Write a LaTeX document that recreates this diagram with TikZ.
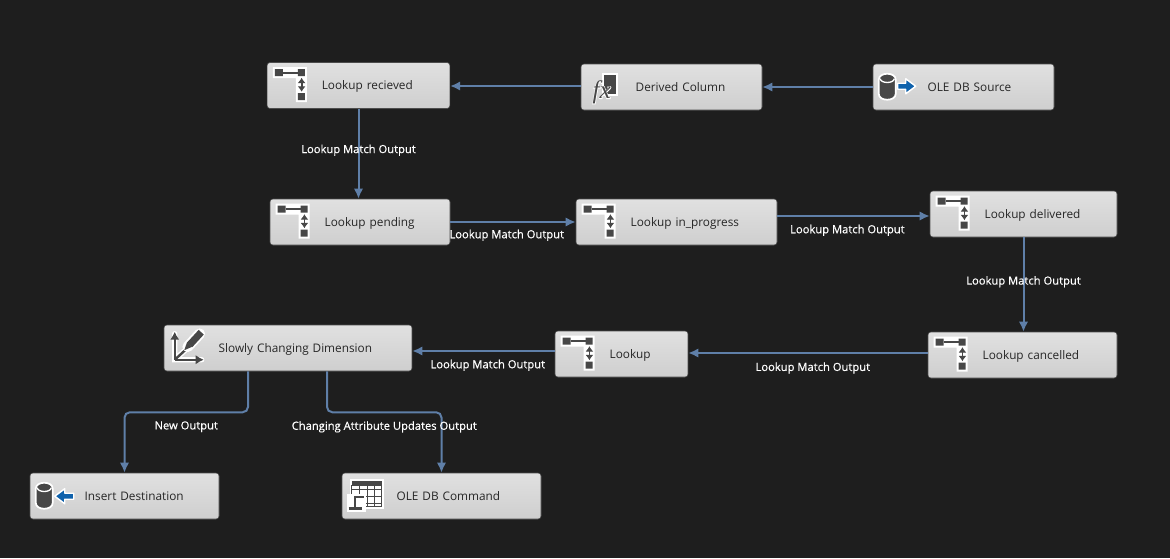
\documentclass[tikz,border=0pt]{standalone}
\usepackage{fontspec}
\setmainfont{Open Sans}
\newfontfamily\linkfont[RawFeature={embolden=0.5}]{Open Sans}
\newfontfamily\fxfont[ItalicFont=Liberation Serif Italic]{Liberation Serif}
\newfontfamily\fxglow[ItalicFont=Liberation Serif Italic,ItalicFeatures={RawFeature={embolden=5}}]{Liberation Serif}
\usetikzlibrary{arrows,arrows.meta}
\usetikzlibrary{positioning,shapes}
\definecolor{canvas}{HTML}{1E1E1E}
\definecolor{flowblue}{HTML}{5F7FA8}
\definecolor{icondark}{HTML}{474747}
\definecolor{iconblue}{HTML}{0F62AC}
\tikzset{
  taskbox/.style={rectangle, rounded corners=2.2pt, draw=black!70, line width=0.4pt,
    top color=black!12, bottom color=black!19, text=black!85, font=\fontsize{8.85}{10}\selectfont,
    text width=#1, align=left, inner xsep=0pt, inner ysep=0pt, minimum height=34.5pt,
    text height=7.7pt, text depth=1.5pt,
    execute at begin node={\hspace*{41pt}}},
  flow/.style={color=flowblue, line width=1.5pt, >={Latex[length=7.5pt,width=7pt]}},
  linklabel/.style={text=white, font=\linkfont\fontsize{8.4}{10}\selectfont, inner sep=0pt},
  pics/lookupicon/.style={code={
    \fill [white] (6,5) rectangle (40,16) (29,5) rectangle (40,40);
    \fill [icondark] (8,7) rectangle (16,14) (31,7) rectangle (38,14) (31,31) rectangle (38,38);
    \draw [icondark, line width=1.6pt] (16,10.5) -- (31,10.5);
    \draw [icondark, line width=1.4pt, {Latex[length=4pt,width=6pt]}-{Latex[length=4pt,width=6pt]}] (34.7,15.5) -- (34.7,29.5);
  }},
  pics/fxicon/.style={code={
    \fill [icondark, draw=white, line width=1.3pt] (22,10) rectangle (36,31);
    \node [text=white, font=\fxglow\itshape\fontsize{19}{19}\selectfont, inner sep=0pt] (fxhalo) at (21,28.5) {fx};
    \node [text=icondark, font=\fxfont\itshape\fontsize{19}{19}\selectfont, inner sep=0pt] (fxmark) at (21,28.5) {fx};
  }},
  pics/drumicon/.style={code={
    \fill [icondark, draw=white, line width=1.3pt] (6,16) .. controls (6,8) and (23,8) .. (23,16) -- (23,30)
      .. controls (23,38) and (6,38) .. (6,30) -- cycle;
    \draw [white, line width=1pt] (7.5,15) .. controls (8,20) and (21,20) .. (21.5,15);
  }},
  pics/pushicon/.style={code={
    \fill [iconblue, draw=white, line width=1.1pt, line join=round]
      (25,19.5) -- (33,19.5) -- (33,15) -- (43,22.5) -- (33,30) -- (33,25.5) -- (25,25.5) -- cycle;
  }},
  pics/pullicon/.style={code={
    \fill [iconblue, draw=white, line width=1.1pt, line join=round]
      (44,20.5) -- (35,20.5) -- (35,16) -- (25,23.5) -- (35,31) -- (35,26.5) -- (44,26.5) -- cycle;
  }},
  pics/gridicon/.style={code={
    \fill [white] (8,6) rectangle (42,36);
    \fill [icondark] (10,8) rectangle (40,13);
    \draw [icondark, line width=0.8pt] (10,13) rectangle (40,34)
      (10,17) -- (40,17) (10,24) -- (40,24) (10,31) -- (40,31) (18,13) -- (18,34) (26,13) -- (26,34) (33,13) -- (33,34);
    \fill [white] (5,21) rectangle (24,39);
    \draw [icondark, line width=1.2pt] (22,24) -- (13,24) -- (13,35);
    \draw [icondark, line width=2.2pt] (7,36) -- (20,36);
  }},
  pics/dimicon/.style={code={
    \draw [white, line width=4pt, line cap=round] (11,9) -- (11,35) -- (38,35) (11,35) -- (23,24);
    \draw [icondark, line width=1.8pt, -{Latex[length=6pt,width=7pt]}] (11,35) -- (11,7);
    \draw [icondark, line width=1.8pt, -{Latex[length=6pt,width=7pt]}] (11,35) -- (40,35);
    \draw [icondark, line width=1.8pt] (11,35) -- (23,24);
    \draw [white, line width=8pt, line cap=round] (24,22) -- (36,9);
    \draw [icondark, line width=5.2pt] (26,20) -- (37.5,7.5);
    \fill [icondark] (20.5,25.5) -- (23.5,17) -- (28.5,22) -- cycle;
  }},
}
\begin{document}
\begin{tikzpicture}[x=0.75pt, y=-0.75pt]
    \useasboundingbox [fill=canvas] (0,0) rectangle (1170,558);
    \node [taskbox=137pt] (recieved) at (358.5,85.5) {Lookup recieved};
    \node [taskbox=135.75pt] (derived) at (671.5,87) {Derived Column};
    \node [taskbox=135.75pt] (source) at (963.5,87) {OLE DB Source};
    \node [taskbox=135pt] (pending) at (360,222) {Lookup pending};
    \node [taskbox=150.75pt] (progress) at (676.5,222) {Lookup in\_progress};
    \node [taskbox=140.25pt] (delivered) at (1023.5,214) {Lookup delivered};
    \node [taskbox=141.75pt] (cancelled) at (1022.5,355) {Lookup cancelled};
    \node [taskbox=99.75pt] (lookup) at (621.5,354) {Lookup};
    \node [taskbox=186pt] (slowly) at (288,348) {Slowly Changing Dimension};
    \node [taskbox=141.75pt] (insert) at (124.5,496) {Insert Destination};
    \node [taskbox=149.25pt] (command) at (441.5,496) {OLE DB Command};

    \pic at (recieved.north west) {lookupicon};
    \pic at (derived.north west) {fxicon};
    \pic at (source.north west) {drumicon};
    \pic at (source.north west) {pushicon};
    \pic at (pending.north west) {lookupicon};
    \pic at (progress.north west) {lookupicon};
    \pic at (delivered.north west) {lookupicon};
    \pic at (cancelled.north west) {lookupicon};
    \pic at (lookup.north west) {lookupicon};
    \pic at (slowly.north west) {dimicon};
    \pic at (insert.north west) {drumicon};
    \pic at (insert.north west) {pullicon};
    \pic at (command.north west) {gridicon};

    \coordinate (dr) at ([yshift=0.75pt]derived.west);
    \coordinate (pd) at ([yshift=-1.5pt]delivered.west);
    \coordinate (cl) at ([yshift=1.5pt]cancelled.west);
    \coordinate (ls) at ([yshift=2.25pt]lookup.west);
    \path [draw, flow] (source.west) edge[->] node {} (derived.east)
    (dr) edge[->] node {} (dr -| recieved.east)
    (recieved.south) edge[->] node[linklabel, pos=0.46] {Lookup Match Output} (recieved.south |- pending.north)
    (pending.east) edge[->] node[linklabel, pos=0.45, yshift=-10pt] {Lookup Match Output} (progress.west)
    (pd -| progress.east) edge[->] node[linklabel, pos=0.46, yshift=-10.75pt] {Lookup Match Output} (pd)
    (delivered.south) edge[->] node[linklabel, pos=0.47] {Lookup Match Output} (delivered.south |- cancelled.north)
    (cl) edge[->] node[linklabel, pos=0.48, yshift=-11.25pt] {Lookup Match Output} (cl -| lookup.east)
    (ls) edge[->] node[linklabel, pos=0.47, yshift=-10.75pt] {Lookup Match Output} (ls -| slowly.east)
    ;
    \draw [flow, ->, rounded corners=4pt] ([xshift=-30pt]slowly.south) -- ++(0,41)
      -| node[linklabel, pos=0.25, below=6pt] {New Output} (insert.north);
    \draw [flow, ->, rounded corners=4pt] ([xshift=29.25pt]slowly.south) -- ++(0,41)
      -| node[linklabel, pos=0.25, below=6pt] {Changing Attribute Updates Output} (command.north);
  \end{tikzpicture}
\end{document}
